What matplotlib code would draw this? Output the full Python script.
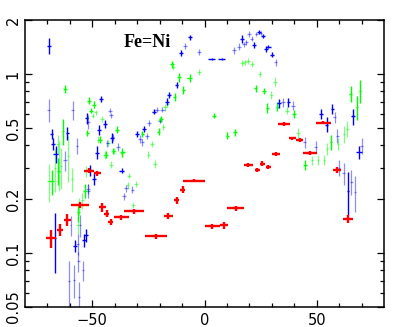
import numpy as np
import matplotlib
matplotlib.use("Agg")
import matplotlib.pyplot as plt
from matplotlib.ticker import FixedLocator, NullFormatter, LogLocator

# red : (x, xerr, y, yerr)
red = np.array([
    (-68.5, 2.2, 0.121, 0.014), (-64.4, 1.5, 0.135, 0.010), (-61.1, 1.5, 0.153, 0.012),
    (-55.6, 4.0, 0.186, 0.008), (-51.4, 2.2, 0.289, 0.010), (-47.7, 1.5, 0.280, 0.009),
    (-45.5, 1.5, 0.180, 0.010), (-43.6, 1.2, 0.166, 0.008), (-41.8, 1.2, 0.149, 0.006),
    (-37.0, 3.3, 0.158, 0.005), (-31.4, 4.5, 0.171, 0.006), (-21.7, 5.0, 0.124, 0.004),
    (-16.1, 2.0, 0.161, 0.007), (-12.4, 1.2, 0.197, 0.008), (-9.8, 1.2, 0.226, 0.010),
    (-4.7, 5.0, 0.254, 0.006), (3.5, 3.4, 0.141, 0.005), (8.7, 1.8, 0.143, 0.006),
    (13.9, 3.7, 0.178, 0.006), (19.5, 2.0, 0.312, 0.008), (23.6, 1.2, 0.291, 0.009),
    (25.8, 1.2, 0.315, 0.010), (28.5, 1.2, 0.302, 0.009), (31.7, 1.8, 0.356, 0.010),
    (35.4, 2.8, 0.526, 0.012), (39.1, 1.5, 0.437, 0.010), (42.5, 1.5, 0.429, 0.010),
    (47.0, 3.3, 0.363, 0.010), (53.0, 3.5, 0.535, 0.012), (58.9, 1.8, 0.291, 0.010),
    (63.9, 2.2, 0.155, 0.008),
])

blue = np.array([
    (-69.3, 0.8, 1.44, 0.15), (-66.6, 0.3, 0.122, 0.045), (-61.1, 0.8, 0.467, 0.04),
    (-68.1, 0.8, 0.463, 0.03), (-66.3, 1.0, 0.358, 0.04), (-67.5, 0.8, 0.407, 0.03),
    (-46.2, 0.8, 0.726, 0.03), (-52.5, 0.8, 0.568, 0.04), (-47.0, 0.8, 0.487, 0.03),
    (-44.3, 0.8, 0.526, 0.03), (-41.3, 0.8, 0.44, 0.03), (-48.0, 0.8, 0.364, 0.03),
    (-51.0, 0.8, 0.291, 0.02), (-49.2, 0.8, 0.26, 0.02), (-57.7, 0.8, 0.110, 0.008),
    (-53.7, 0.8, 0.118, 0.01), (-52.9, 0.8, 0.126, 0.01), (-36.9, 1.0, 0.289, 0.01),
    (-27.0, 0.8, 0.494, 0.02), (-30.2, 0.8, 0.463, 0.02), (-22.5, 1.0, 0.616, 0.02),
    (-6.5, 1.0, 1.60, 0.05), (-10.6, 0.8, 1.31, 0.05), (-12.4, 0.8, 0.868, 0.03),
    (-15.8, 0.8, 0.767, 0.03), (-16.8, 0.8, 0.70, 0.03), (3.2, 1.5, 1.21, 0.02),
    (7.7, 1.5, 1.21, 0.02), (16.6, 0.8, 1.57, 0.08), (22.0, 0.8, 1.45, 0.05),
    (24.3, 0.8, 1.71, 0.05), (26.0, 0.8, 1.63, 0.04), (27.3, 0.8, 1.38, 0.05),
    (28.5, 1.0, 1.42, 0.03), (30.2, 0.8, 1.28, 0.04), (33.2, 0.8, 0.686, 0.04),
    (37.4, 0.8, 0.695, 0.04), (52.0, 0.8, 0.598, 0.04), (54.4, 0.8, 0.522, 0.05),
    (57.0, 0.8, 0.638, 0.04), (63.9, 0.5, 0.223, 0.06), (66.3, 0.8, 0.58, 0.06),
    (68.8, 1.5, 0.365, 0.03),
])

blue_light = np.array([
    (-69.5, 0.8, 0.63, 0.09), (-58.8, 0.8, 0.63, 0.08), (-42.2, 1.0, 0.624, 0.02),
    (-52.0, 0.8, 0.54, 0.05), (-62.1, 1.0, 0.329, 0.04), (-56.9, 0.3, 0.398, 0.04),
    (-43.3, 0.8, 0.41, 0.02), (-41.8, 0.8, 0.588, 0.02), (-51.7, 0.8, 0.223, 0.02),
    (-51.9, 0.8, 0.228, 0.015), (-55.5, 0.3, 0.143, 0.02), (-59.6, 0.3, 0.143, 0.018),
    (-56.6, 0.8, 0.113, 0.015), (-56.2, 0.5, 0.090, 0.012), (-60.4, 0.5, 0.070, 0.02),
    (-58.1, 0.5, 0.071, 0.015), (-54.1, 0.5, 0.080, 0.01), (-55.9, 0.5, 0.057, 0.012),
    (-19.8, 1.0, 0.549, 0.02), (-24.7, 1.0, 0.533, 0.02), (-25.7, 0.8, 0.451, 0.02),
    (-28.7, 0.8, 0.434, 0.02), (-27.7, 0.8, 0.416, 0.02), (-41.0, 0.8, 0.443, 0.02),
    (-38.5, 0.8, 0.393, 0.02), (-35.1, 0.8, 0.230, 0.01), (-32.1, 0.8, 0.226, 0.01),
    (-35.9, 0.8, 0.207, 0.01), (-8.7, 1.0, 1.43, 0.05), (-2.4, 0.8, 1.32, 0.05),
    (-18.8, 1.0, 0.63, 0.02), (-21.3, 1.0, 0.63, 0.02), (13.1, 0.8, 1.36, 0.06),
    (15.4, 0.8, 1.42, 0.06), (17.6, 0.8, 1.46, 0.05), (18.7, 0.8, 1.50, 0.05),
    (19.8, 0.8, 1.67, 0.06), (21.0, 0.8, 1.57, 0.05), (23.1, 0.8, 1.67, 0.05),
    (25.0, 0.8, 1.69, 0.05), (31.7, 0.8, 1.16, 0.05), (35.0, 0.8, 0.695, 0.04),
    (39.4, 0.8, 0.666, 0.04), (44.6, 0.8, 0.416, 0.03), (49.5, 0.8, 0.39, 0.03),
    (58.0, 0.8, 0.573, 0.04), (59.2, 0.8, 0.453, 0.04), (70.0, 0.8, 0.398, 0.04),
    (62.0, 0.5, 0.28, 0.04), (65.5, 0.5, 0.25, 0.04), (67.0, 0.5, 0.22, 0.05),
    (60.0, 0.5, 0.30, 0.03),
])

green = np.array([
    (-62.3, 0.8, 0.825, 0.04), (-51.4, 0.8, 0.71, 0.03), (-49.2, 0.8, 0.672, 0.03),
    (-50.7, 0.8, 0.624, 0.02), (-52.2, 0.8, 0.469, 0.02), (-46.7, 0.8, 0.429, 0.02),
    (-39.1, 0.8, 0.489, 0.02), (-44.0, 0.8, 0.355, 0.015), (-36.6, 1.0, 0.365, 0.02),
    (-40.6, 0.8, 0.373, 0.015), (-53.2, 0.8, 0.223, 0.02), (-56.2, 0.5, 0.169, 0.02),
    (-63.0, 0.5, 0.483, 0.08), (-65.1, 0.8, 0.289, 0.05), (-68.1, 1.0, 0.252, 0.04),
    (-14.6, 0.8, 1.13, 0.05), (-11.4, 0.8, 0.957, 0.05), (-6.6, 1.0, 0.95, 0.05),
    (-9.4, 0.8, 0.817, 0.04), (-13.3, 0.8, 0.747, 0.04), (-19.5, 0.8, 0.561, 0.02),
    (-20.5, 0.8, 0.477, 0.02), (-27.7, 0.8, 0.463, 0.02), (4.2, 0.8, 0.585, 0.02),
    (13.6, 0.8, 0.472, 0.02), (10.2, 0.8, 0.453, 0.02), (22.8, 0.8, 0.831, 0.04),
    (26.5, 1.0, 0.807, 0.03), (28.0, 0.8, 0.646, 0.04), (32.5, 0.8, 0.657, 0.04),
    (39.9, 0.8, 0.598, 0.03), (44.8, 0.8, 0.312, 0.02), (56.5, 0.5, 0.416, 0.04),
    (65.1, 0.5, 0.774, 0.08), (67.8, 0.5, 0.651, 0.1), (69.3, 0.5, 0.807, 0.12),
])

green_light = np.array([
    (-49.9, 0.8, 0.585, 0.02), (-48.5, 0.8, 0.611, 0.02), (-45.8, 0.8, 0.561, 0.02),
    (-43.0, 0.8, 0.41, 0.015), (-40.3, 0.8, 0.373, 0.015), (-36.9, 0.8, 0.363, 0.015),
    (-44.3, 0.8, 0.353, 0.02), (-41.8, 0.8, 0.312, 0.015), (-47.3, 0.8, 0.429, 0.02),
    (-52.9, 0.8, 0.287, 0.02), (-69.5, 0.5, 0.254, 0.06), (-64.0, 0.5, 0.308, 0.08),
    (-64.8, 0.5, 0.321, 0.1), (-65.5, 0.5, 0.407, 0.05), (-59.2, 0.5, 0.26, 0.04),
    (-54.4, 0.5, 0.197, 0.02), (-55.9, 0.5, 0.184, 0.02), (-56.6, 0.5, 0.143, 0.015),
    (-61.0, 0.5, 0.35, 0.1), (-66.5, 0.5, 0.30, 0.08), (-25.0, 0.8, 0.355, 0.015),
    (-22.0, 0.8, 0.315, 0.015), (-33.6, 0.8, 0.271, 0.01), (-30.6, 0.8, 0.244, 0.01),
    (-34.3, 0.8, 0.239, 0.01), (-31.8, 0.8, 0.186, 0.008), (-23.5, 0.8, 0.407, 0.015),
    (-18.3, 0.8, 0.504, 0.02), (-19.8, 0.8, 0.554, 0.02), (-13.9, 0.8, 1.10, 0.05),
    (-2.4, 0.8, 1.02, 0.04), (-16.5, 0.8, 0.681, 0.03), (-17.6, 0.8, 0.651, 0.03),
    (16.6, 0.8, 1.15, 0.04), (18.0, 0.8, 1.16, 0.04), (19.5, 0.8, 1.18, 0.04),
    (21.3, 0.8, 1.14, 0.04), (24.6, 0.8, 1.0, 0.04), (31.4, 0.8, 0.906, 0.05),
    (29.8, 0.8, 0.767, 0.04), (36.9, 0.8, 0.624, 0.03), (41.8, 0.8, 0.467, 0.03),
    (47.8, 0.5, 0.329, 0.02), (50.6, 0.5, 0.332, 0.02), (53.2, 0.5, 0.332, 0.02),
    (54.7, 0.5, 0.382, 0.03), (59.6, 0.5, 0.407, 0.03), (62.1, 0.5, 0.463, 0.05),
    (63.7, 0.5, 0.494, 0.05),
])

ytick_vals = [0.05, 0.1, 0.2, 0.5, 1, 2]
ytick_labels = ["0.05", "0.1", "0.2", "0.5", "1", "2"]
xtick_vals = [-50, 0, 50]

fig = plt.figure(figsize=(4.09, 3.27), dpi=100)
ax = fig.add_axes([25/409, 20/327, 359/409, 287/327])


def crosses(d, color, lw, alpha=1.0):
    ax.errorbar(d[:, 0], d[:, 2], xerr=d[:, 1], yerr=d[:, 3], fmt='none',
                ecolor=color, elinewidth=lw, capsize=0, alpha=alpha)


crosses(green_light, '#00ff00', 0.9, 0.5)
crosses(blue_light, '#0000ff', 0.9, 0.45)
crosses(green, '#00ff00', 1.0)
crosses(blue, '#0000ff', 1.0)
crosses(red, '#ff0000', 1.7)

ax.set_yscale('log')
ax.set_xlim(-80, 80)
ax.set_ylim(0.05, 2)
ax.yaxis.set_major_locator(FixedLocator(ytick_vals))
ax.set_yticklabels(ytick_labels, rotation=90, va='center')
ax.yaxis.set_minor_locator(LogLocator(base=10, subs=np.arange(2, 10)))
ax.yaxis.set_minor_formatter(NullFormatter())
ax.set_xticks(xtick_vals)
ax.set_xticks(np.arange(-70, 80, 10), minor=True)
ax.tick_params(which='both', direction='in', top=True, right=True, width=0.9, labelsize=10.5)
ax.tick_params(which='major', length=5)
ax.tick_params(which='minor', length=3)
ax.tick_params(axis='y', pad=3)
ax.tick_params(axis='x', pad=4)
for s in ax.spines.values():
    s.set_linewidth(1.1)

ax.text(-36, 1.49, "Fe=Ni", fontsize=13, family='Liberation Serif', weight='bold',
        va='center', ha='left')

fig.savefig("out.png", dpi=100)
